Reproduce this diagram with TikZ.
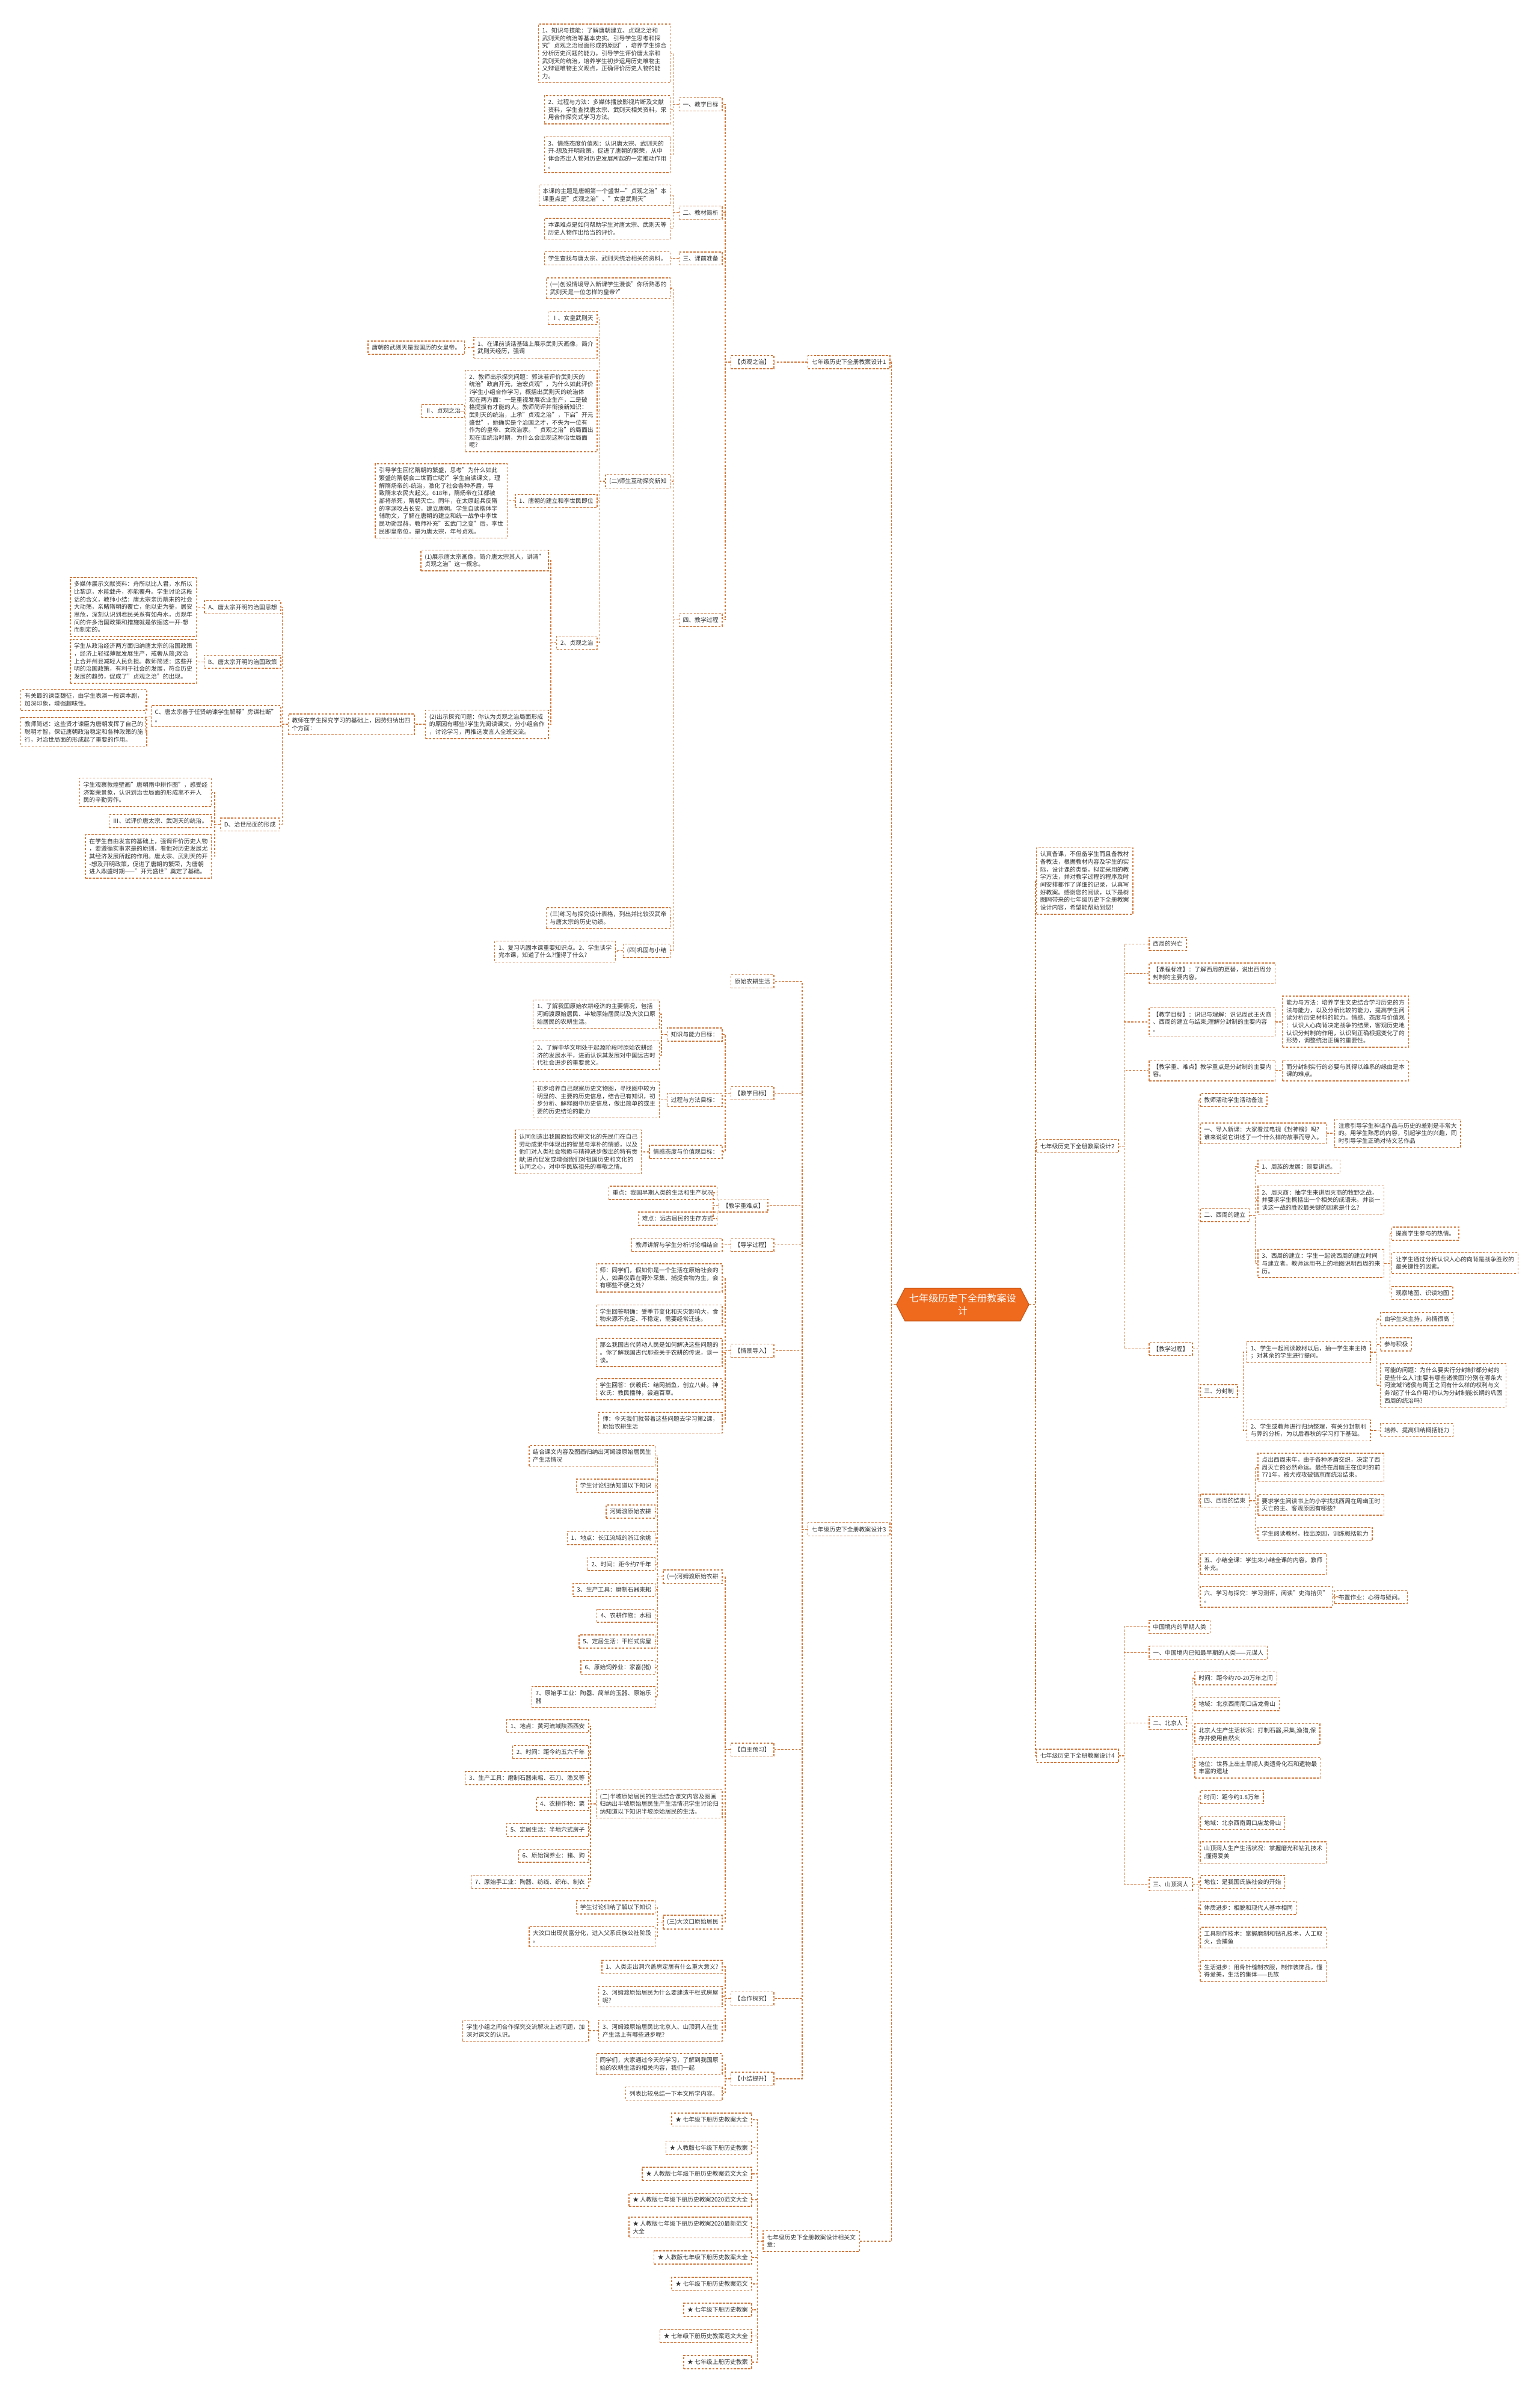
\documentclass[tikz,border=0pt]{standalone}
\usepackage{fontspec}
\setmainfont{Noto Sans CJK SC}
\usetikzlibrary{shapes.symbols}
\definecolor{mapline}{HTML}{D07A3F}
\definecolor{hubfill}{HTML}{F06A1E}
\definecolor{lblfill}{HTML}{EEF1F5}
\definecolor{inkgray}{HTML}{333333}
\tikzset{box/.style={draw=mapline,dash pattern=on 1pt off 0.7pt,line width=0.4pt,fill=white,align=left,inner xsep=1.8pt,inner ysep=1.8pt,text=inkgray,font={\fontsize{2.8pt}{3.6pt}\selectfont}},
 le/.style={box,anchor=east}, ri/.style={box,anchor=west},
 branch/.style={box,fill=lblfill,inner xsep=1.6pt,inner ysep=2.3pt,font={\fontsize{3.6pt}{4.7pt}\selectfont}},
 hub/.style={signal,signal to=west and east,signal pointer angle=125,fill=hubfill,draw=hubfill!85!black,text=white,align=center,inner xsep=2pt,inner ysep=2.6pt,minimum width=2.08cm,font={\fontsize{4.6pt}{6pt}\selectfont}},
 link/.style={draw=mapline,dash pattern=on 1pt off 0.7pt,line width=0.4pt}}

\begin{document}
\begin{tikzpicture}[x=0.02535cm,y=-0.02535cm]
\useasboundingbox[fill=white] (0,0) rectangle (1010,1568);
\node[hub] (hub) at (631.5,855.5) {七年级历史下全册教案设\\计};

\node[branch,le] (b1) at (584,237.5) {七年级历史下全册教案设计1};
\node[le] (zg) at (508,237.5) {【贞观之治】};
\node[le] (m1) at (474,68.5) {一、教学目标};
\node[le] (m1a) at (440,35) {1、知识与技能：了解唐朝建立、贞观之治和\\武则天的统治等基本史实。引导学生思考和探\\究"贞观之治局面形成的原因"，培养学生综合\\分析历史问题的能力。引导学生评价唐太宗和\\武则天的统治，培养学生初步运用历史唯物主\\义辩证唯物主义观点，正确评价历史人物的能\\力。};
\node[le] (m1b) at (440,72) {2、过程与方法：多媒体播放影视片断及文献\\资料，学生查找唐太宗、武则天相关资料，采\\用合作探究式学习方法。};
\node[le] (m1c) at (440,101.5) {3、情感态度价值观：认识唐太宗、武则天的\\开-想及开明政策，促进了唐朝的繁荣，从中\\体会杰出人物对历史发展所起的一定推动作用\\。};
\node[le] (m2) at (474,139.5) {二、教材简析};
\node[le] (m2a) at (440,128) {本课的主题是唐朝第一个盛世—"贞观之治"本\\课重点是"贞观之治"、"女皇武则天"};
\node[le] (m2b) at (440,150) {本课难点是如何帮助学生对唐太宗、武则天等\\历史人物作出恰当的评价。};
\node[le] (m3) at (474,169.5) {三、课前准备};
\node[le] (m3a) at (440,169.5) {学生查找与唐太宗、武则天统治相关的资料。};
\node[le] (m4) at (474,406.5) {四、教学过程};
\node[le] (p1) at (440,189) {(一)创设情境导入新课学生漫谈"你所熟悉的\\武则天是一位怎样的皇帝?"};
\node[le] (p2) at (440,315.5) {(二)师生互动探究新知};
\node[le] (p3) at (440,602) {(三)练习与探究设计表格，列出并比较汉武帝\\与唐太宗的历史功绩。};
\node[le] (p4) at (440,623.5) {(四)巩固与小结};
\node[le] (p4a) at (404,624) {1、复习巩固本课重要知识点。2、学生谈学\\完本课，知道了什么?懂得了什么?};
\node[le] (q1) at (392,208.5) {Ⅰ、女皇武则天};
\node[le] (q2) at (392,228) {1、在课前谈话基础上展示武则天画像，简介\\武则天经历，强调};
\node[le] (q2a) at (305,228) {唐朝的武则天是我国历的女皇帝。};
\node[le] (q3) at (392,269.5) {2、教师出示探究问题：郭沫若评价武则天的\\统治"政启开元，治宏贞观"，为什么如此评价\\?学生小组合作学习，概括出武则天的统治体\\现在两方面：一是重视发展农业生产，二是破\\格提拔有才能的人。教师简评并衔接新知识：\\武则天的统治，上承"贞观之治"，下启"开元\\盛世"，她确实是个治国之才，不失为一位有\\作为的皇帝、女政治家。"贞观之治"的局面出\\现在谁统治时期，为什么会出现这种治世局面\\呢?};
\node[le] (q3a) at (305,269.5) {Ⅱ、贞观之治};
\node[le] (q4) at (392,328.5) {1、唐朝的建立和李世民即位};
\node[le] (q4a) at (333,328.5) {引导学生回忆隋朝的繁盛，思考"为什么如此\\繁盛的隋朝会二世而亡呢?"学生自读课文，理\\解隋炀帝的-统治，激化了社会各种矛盾，导\\致隋末农民大起义。618年，隋炀帝在江都被\\部将杀死，隋朝灭亡。同年，在太原起兵反隋\\的李渊攻占长安，建立唐朝。学生自读楷体字\\辅助文，了解在唐朝的建立和统一战争中李世\\民功勋显赫，教师补充"玄武门之变"后，李世\\民即皇帝位，是为唐太宗，年号贞观。};
\node[le] (q5) at (392,421.5) {2、贞观之治};
\node[le] (r1) at (360,367.5) {(1)展示唐太宗画像，简介唐太宗其人，讲清"\\贞观之治"这一概念。};
\node[le] (r2) at (360,475) {(2)出示探究问题：你认为贞观之治局面形成\\的原因有哪些?学生先阅读课文，分小组合作\\，讨论学习，再推选发言人全班交流。};
\node[le] (r2a) at (272,475) {教师在学生探究学习的基础上，因势归纳出四\\个方面：};
\node[le] (s1) at (184.5,398.3) {A、唐太宗开明的治国思想};
\node[le] (s1a) at (129,398) {多媒体展示文献资料：舟所以比人君，水所以\\比黎庶，水能载舟，亦能覆舟。学生讨论这段\\话的含义，教师小结：唐太宗亲历隋末的社会\\大动荡，亲睹隋朝的覆亡，他以史为鉴，居安\\思危，深刻认识到君民关系有如舟水，贞观年\\间的许多治国政策和措施就是依据这一开-想\\而制定的。};
\node[le] (s2) at (184.5,434) {B、唐太宗开明的治国政策};
\node[le] (s2a) at (129,433.7) {学生从政治经济两方面归纳唐太宗的治国政策\\，经济上轻徭薄赋发展生产，戒奢从简;政治\\上合并州县减轻人民负担。教师简述：这些开\\明的治国政策，有利于社会的发展，符合历史\\发展的趋势，促成了"贞观之治"的出现。};
\node[le] (s3) at (184.5,469.5) {C、唐太宗善于任贤纳谏学生解释"房谋杜断"\\。};
\node[le] (s3a) at (96.6,459) {有关最的谏臣魏征，由学生表演一段课本剧，\\加深印象，增强趣味性。};
\node[le] (s3b) at (96.6,480) {教师简述：这些贤才谏臣为唐朝发挥了自己的\\聪明才智，保证唐朝政治稳定和各种政策的施\\行，对治世局面的形成起了重要的作用。};
\node[le] (s4) at (183.6,540.7) {D、治世局面的形成};
\node[le] (s4a) at (139,519.6) {学生观察敦煌壁画"唐朝雨中耕作图"，感受经\\济繁荣景象，认识到治世局面的形成离不开人\\民的辛勤劳作。};
\node[le] (s4b) at (139,538.5) {Ⅲ、试评价唐太宗、武则天的统治。};
\node[le] (s4c) at (139,561.6) {在学生自由发言的基础上，强调评价历史人物\\，要遵循实事求是的原则，看他对历史发展尤\\其经济发展所起的作用。唐太宗、武则天的开\\-想及开明政策，促进了唐朝的繁荣，为唐朝\\进入鼎盛时期——"开元盛世"奠定了基础。};

\node[branch,le] (b3) at (584,1003) {七年级历史下全册教案设计3};
\node[le] (c0) at (508,643.5) {原始农耕生活};
\node[le] (c1) at (508,717) {【教学目标】};
\node[le] (c1a) at (474,678.5) {知识与能力目标：};
\node[le] (c1a1) at (432.7,665) {1、了解我国原始农耕经济的主要情况，包括\\河姆渡原始居民、半坡原始居民以及大汶口原\\始居民的农耕生活。};
\node[le] (c1a2) at (432.7,692) {2、了解中华文明处于起源阶段时原始农耕经\\济的发展水平，进而认识其发展对中国远古时\\代社会进步的重要意义。};
\node[le] (c1b) at (474,721.3) {过程与方法目标：};
\node[le] (c1b1) at (432.7,721.3) {初步培养自己观察历史文物图，寻找图中较为\\明显的、主要的历史信息，结合已有知识，初\\步分析、解释图中历史信息，做出简单的或主\\要的历史结论的能力};
\node[le] (c1c) at (474,755.4) {情感态度与价值观目标：};
\node[le] (c1c1) at (421,755.4) {认同创造出我国原始农耕文化的先民们在自己\\劳动成果中体现出的智慧与淳朴的情感，以及\\他们对人类社会物质与精神进步做出的特有贡\\献;进而促发或增强我们对祖国历史和文化的\\认同之心，对中华民族祖先的尊敬之情。};
\node[le] (c2) at (504,790.6) {【教学重难点】};
\node[le] (c2a) at (470.6,782.2) {重点：我国早期人类的生活和生产状况};
\node[le] (c2b) at (470.6,799.2) {难点：远古居民的生存方式};
\node[le] (c3) at (508,816.3) {【导学过程】};
\node[le] (c3a) at (474,816.3) {教师讲解与学生分析讨论相结合};
\node[le] (c4) at (508,885.7) {【情景导入】};
\node[le] (c4a) at (474,838) {师：同学们，假如你是一个生活在原始社会的\\人，如果仅靠在野外采集、捕捉食物为生，会\\有哪些不便之处?};
\node[le] (c4b) at (474,862.6) {学生回答明确：受季节变化和天灾影响大，食\\物来源不充足、不稳定，需要经常迁徙。};
\node[le] (c4c) at (474,887) {那么我国古代劳动人民是如何解决这些问题的\\。你了解我国古代那些关于农耕的传说，谈一\\谈。};
\node[le] (c4d) at (474,911) {学生回答：伏羲氏：结网捕鱼，创立八卦。神\\农氏：教民播种，尝遍百草。};
\node[le] (c4e) at (474,933) {师：今天我们就带着这些问题去学习第2课，\\原始农耕生活};
\node[le] (c5) at (508,1147.4) {【自主预习】};
\node[le] (c5a) at (474,1034) {(一)河姆渡原始农耕};
\node[le] (c5a1) at (430,954.7) {结合课文内容及图画归纳出河姆渡原始居民生\\产生活情况};
\node[le] (c5a2) at (430,974.3) {学生讨论归纳知道以下知识};
\node[le] (c5a3) at (430,991.3) {河姆渡原始农耕};
\node[le] (c5a4) at (430,1008.7) {1、地点：长江流域的浙江余姚};
\node[le] (c5a5) at (430,1025.7) {2、时间：距今约7千年};
\node[le] (c5a6) at (430,1042.6) {3、生产工具：磨制石器耒耜};
\node[le] (c5a7) at (430,1059.6) {4、农耕作物：水稻};
\node[le] (c5a8) at (430,1076.5) {5、定居生活：干栏式房屋};
\node[le] (c5a9) at (430,1093.5) {6、原始饲养业：家畜(猪)};
\node[le] (c5a10) at (430,1112.8) {7、原始手工业：陶器、简单的玉器、原始乐\\器};
\node[le] (c5b) at (474,1183) {(二)半坡原始居民的生活结合课文内容及图画\\归纳出半坡原始居民生产生活情况学生讨论归\\纳知道以下知识半坡原始居民的生活。};
\node[le] (c5b1) at (386.4,1132) {1、地点：黄河流域陕西西安};
\node[le] (c5b2) at (386.4,1149) {2、时间：距今约五六千年};
\node[le] (c5b3) at (386.4,1166) {3、生产工具：磨制石器耒耜、石刀、渔叉等};
\node[le] (c5b4) at (386.4,1183) {4、农耕作物：粟};
\node[le] (c5b5) at (386.4,1200) {5、定居生活：半地穴式房子};
\node[le] (c5b6) at (386.4,1217) {6、原始饲养业：猪、狗};
\node[le] (c5b7) at (386.4,1234) {7、原始手工业：陶器、纺线、织布、制衣};
\node[le] (c5c) at (474,1260.5) {(三)大汶口原始居民};
\node[le] (c5c1) at (430,1250.8) {学生讨论归纳了解以下知识};
\node[le] (c5c2) at (430,1270) {大汶口出现贫富分化，进入父系氏族公社阶段\\。};
\node[le] (c6) at (508,1310.6) {【合作探究】};
\node[le] (c6a) at (474,1289.8) {1、人类走出洞穴盖房定居有什么重大意义?};
\node[le] (c6b) at (474,1309.4) {2、河姆渡原始居民为什么要建造干栏式房屋\\呢?};
\node[le] (c6c) at (474,1331.7) {3、河姆渡原始居民比北京人、山顶洞人在生\\产生活上有哪些进步呢?};
\node[le] (c6c1) at (386.4,1331.7) {学生小组之间合作探究交流解决上述问题，加\\深对课文的认识。};
\node[le] (c7) at (508,1363.2) {【小结提升】};
\node[le] (c7a) at (474,1353.5) {同学们，大家通过今天的学习，了解到我国原\\始的农耕生活的相关内容，我们一起};
\node[le] (c7b) at (474,1373) {列表比较总结一下本文所学内容。};

\node[branch,ri] (b5) at (500.3,1469.7) {七年级历史下全册教案设计相关文\\章：};
\node[le] (d1) at (493.4,1390) {★ 七年级下册历史教案大全};
\node[le] (d2) at (493.4,1408.5) {★ 人教版七年级下册历史教案};
\node[le] (d3) at (493.4,1425.6) {★ 人教版七年级下册历史教案范文大全};
\node[le] (d4) at (493.4,1442.6) {★ 人教版七年级下册历史教案2020范文大全};
\node[le] (d5) at (493.4,1460.7) {★ 人教版七年级下册历史教案2020最新范文\\大全};
\node[le] (d6) at (493.4,1480.4) {★ 人教版七年级下册历史教案大全};
\node[le] (d7) at (493.4,1497.7) {★ 七年级下册历史教案范文};
\node[le] (d8) at (493.4,1514.7) {★ 七年级下册历史教案};
\node[le] (d9) at (493.4,1531.9) {★ 七年级下册历史教案范文大全};
\node[le] (d10) at (493.4,1549) {★ 七年级上册历史教案};

\node[branch,ri] (intro) at (679.6,577.7) {认真备课，不但备学生而且备教材\\备教法，根据教材内容及学生的实\\际，设计课的类型，拟定采用的教\\学方法，并对教学过程的程序及时\\间安排都作了详细的记录，认真写\\好教案。感谢您的阅读，以下是树\\图网带来的七年级历史下全册教案\\设计内容，希望能帮助到您！};

\node[branch,ri] (b2) at (679.6,751.7) {七年级历史下全册教案设计2};
\node[ri] (e1) at (753.6,619) {西周的兴亡};
\node[ri] (e2) at (753.6,638.4) {【课程标准】：了解西周的更替，说出西周分\\封制的主要内容。};
\node[ri] (e3) at (753.6,670.2) {【教学目标】：识记与理解：识记周武王灭商\\、西周的建立与结束;理解分封制的主要内容\\。};
\node[ri] (e3a) at (841,670) {能力与方法：培养学生文史结合学习历史的方\\法与能力，以及分析比较的能力，提高学生阅\\读分析历史材料的能力。情感、态度与价值观\\：认识人心向背决定战争的结果，客观历史地\\认识分封制的作用，认识到正确根据变化了的\\形势，调整统治正确的重要性。};
\node[ri] (e4) at (753.6,702) {【教学重、难点】教学重点是分封制的主要内\\容。};
\node[ri] (e4a) at (841,702) {而分封制实行的必要与其得以维系的缘由是本\\课的难点。};
\node[ri] (e5) at (753.6,884.5) {【教学过程】};
\node[ri] (f0) at (787.1,721.4) {教师活动学生活动备注};
\node[ri] (f1) at (787.1,743.2) {一、导入新课：大家看过电视《封神榜》吗?\\谁来说说它讲述了一个什么样的故事而导入。};
\node[ri] (f1a) at (875.2,743.2) {注意引导学生神话作品与历史的差别是非常大\\的。用学生熟悉的内容，引起学生的兴趣，同\\时引导学生正确对待文艺作品};
\node[ri] (f2) at (787.1,796.9) {二、西周的建立};
\node[ri] (f2a) at (825,765) {1、周族的发展：简要讲述。};
\node[ri] (f2b) at (825,787) {2、周灭商：抽学生来讲周灭商的牧野之战，\\并要求学生概括出一个相关的成语来。并谈一\\谈这一战的胜败最关键的因素是什么?};
\node[ri] (f2c) at (825,828.6) {3、西周的建立：学生一起说西周的建立时间\\与建立者。教师运用书上的地图说明西周的来\\历。};
\node[ri] (f2c1) at (912.8,809) {提高学生参与的热情。};
\node[ri] (f2c2) at (912.8,828.3) {让学生通过分析认识人心的向背是战争胜败的\\最关键性的因素。};
\node[ri] (f2c3) at (912.8,848) {观察地图、识读地图};
\node[ri] (f3) at (787.1,912.3) {三、分封制};
\node[ri] (f3a) at (817.7,886.8) {1、学生一起阅读教材以后，抽一学生来主持\\；对其余的学生进行提问。};
\node[ri] (f3a1) at (905.3,865) {由学生来主持，热情很高};
\node[ri] (f3a2) at (905.3,881.6) {参与积极};
\node[ri] (f3a3) at (905.3,908.5) {可能的问题：为什么要实行分封制?都分封的\\是些什么人?主要有哪些诸侯国?分别在哪条大\\河流域?诸侯与周王之间有什么样的权利与义\\务?起了什么作用?你认为分封制能长期的巩固\\西周的统治吗?};
\node[ri] (f3b) at (817.7,938) {2、学生或教师进行归纳整理，有关分封制利\\与弊的分析，为以后春秋的学习打下基础。};
\node[ri] (f3b1) at (905.3,937.9) {培养、提高归纳概括能力};
\node[ri] (f4) at (787.1,984.1) {四、西周的结束};
\node[ri] (f4a) at (825,962.3) {点出西周末年，由于各种矛盾交织，决定了西\\周灭亡的必然命运。最终在周幽王在位时的前\\771年，被犬戎攻破镐京而统治结束。};
\node[ri] (f4b) at (825,986.8) {要求学生阅读书上的小字找找西周在周幽王时\\灭亡的主、客观原因有哪些?};
\node[ri] (f4c) at (825,1006) {学生阅读教材，找出原因，训练概括能力};
\node[ri] (f5) at (787.1,1025.6) {五、小结全课：学生来小结全课的内容。教师\\补充。};
\node[ri] (f6) at (787.1,1047.2) {六、学习与探究：学习测评，阅读"史海拾贝"\\。};
\node[ri] (f6a) at (875.2,1047.4) {布置作业：心得与疑问。};

\node[branch,ri] (b4) at (679.6,1151.4) {七年级历史下全册教案设计4};
\node[ri] (g1) at (753.6,1066.9) {中国境内的早期人类};
\node[ri] (g2) at (753.6,1083.8) {一、中国境内已知最早期的人类——元谋人};
\node[ri] (g3) at (753.6,1129.9) {二、北京人};
\node[ri] (g3a) at (783.5,1100.6) {时间：距今约70-20万年之间};
\node[ri] (g3b) at (783.5,1117.6) {地域：北京西南周口店龙骨山};
\node[ri] (g3c) at (783.5,1137.2) {北京人生产生活状况：打制石器,采集,渔猎,保\\存并使用自然火};
\node[ri] (g3d) at (783.5,1159.2) {地位：世界上出土早期人类遗骨化石和遗物最\\丰富的遗址};
\node[ri] (g4) at (753.6,1235.6) {三、山顶洞人};
\node[ri] (g4a) at (787.1,1178.4) {时间：距今约1.8万年};
\node[ri] (g4b) at (787.1,1195.4) {地域：北京西南周口店龙骨山};
\node[ri] (g4c) at (787.1,1214.8) {山顶洞人生产生活状况：掌握磨光和钻孔技术\\,懂得爱美};
\node[ri] (g4d) at (787.1,1234.2) {地位：是我国氏族社会的开始};
\node[ri] (g4e) at (787.1,1251.3) {体质进步：相貌和现代人基本相同};
\node[ri] (g4f) at (787.1,1270.7) {工具制作技术：掌握磨制和钻孔技术，人工取\\火，会捕鱼};
\node[ri] (g4g) at (787.1,1292.6) {生活进步：用骨针缝制衣服，制作装饰品，懂\\得爱美，生活的集体——氏族};

\foreach \c in {b1,b3,b5}
 \draw[link] (hub.west) -- ++(-3,0) |- (\c.east);
\foreach \c in {intro,b2,b4}
 \draw[link] (hub.east) -- ++(4,0) |- (\c.west);
\foreach \p/\c in {b1/zg,zg/m1,zg/m2,zg/m3,zg/m4,m1/m1a,m1/m1b,m1/m1c,m2/m2a,m2/m2b,m3/m3a,
 m4/p1,m4/p2,m4/p3,m4/p4,p4/p4a,p2/q1,p2/q2,p2/q3,p2/q4,p2/q5,q2/q2a,q3/q3a,q4/q4a,q5/r1,q5/r2,r2/r2a,
 r2a/s1,r2a/s2,r2a/s3,r2a/s4,s1/s1a,s2/s2a,s3/s3a,s3/s3b,s4/s4a,s4/s4b,s4/s4c,
 b3/c0,b3/c1,b3/c2,b3/c3,b3/c4,b3/c5,b3/c6,b3/c7,c1/c1a,c1/c1b,c1/c1c,c1a/c1a1,c1a/c1a2,c1b/c1b1,c1c/c1c1,
 c2/c2a,c2/c2b,c3/c3a,c4/c4a,c4/c4b,c4/c4c,c4/c4d,c4/c4e,c5/c5a,c5/c5b,c5/c5c,
 c5a/c5a1,c5a/c5a2,c5a/c5a3,c5a/c5a4,c5a/c5a5,c5a/c5a6,c5a/c5a7,c5a/c5a8,c5a/c5a9,c5a/c5a10,
 c5b/c5b1,c5b/c5b2,c5b/c5b3,c5b/c5b4,c5b/c5b5,c5b/c5b6,c5b/c5b7,c5c/c5c1,c5c/c5c2,
 c6/c6a,c6/c6b,c6/c6c,c6c/c6c1,c7/c7a,c7/c7b,
 b5/d1,b5/d2,b5/d3,b5/d4,b5/d5,b5/d6,b5/d7,b5/d8,b5/d9,b5/d10}
 \draw[link] (\p.west) -- ++(-3.5,0) |- (\c.east);
\foreach \p/\c in {b2/e1,b2/e2,b2/e3,b2/e4,b2/e5,e3/e3a,e4/e4a,e5/f0,e5/f1,e5/f2,e5/f3,e5/f4,e5/f5,e5/f6,
 f1/f1a,f2/f2a,f2/f2b,f2/f2c,f2c/f2c1,f2c/f2c2,f2c/f2c3,f3/f3a,f3/f3b,f3a/f3a1,f3a/f3a2,f3a/f3a3,f3b/f3b1,
 f4/f4a,f4/f4b,f4/f4c,f6/f6a,
 b4/g1,b4/g2,b4/g3,b4/g4,g3/g3a,g3/g3b,g3/g3c,g3/g3d,g4/g4a,g4/g4b,g4/g4c,g4/g4d,g4/g4e,g4/g4f,g4/g4g}
 \draw[link] (\p.east) -- ++(3.5,0) |- (\c.west);
\end{tikzpicture}
\end{document}
